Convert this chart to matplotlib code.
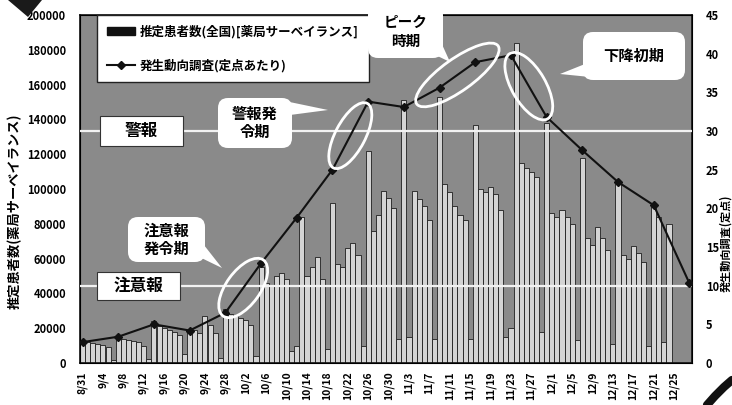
import math

import numpy as np
import pandas as pd
import matplotlib
matplotlib.use('Agg')
import matplotlib.pyplot as plt
from matplotlib.patches import Ellipse, FancyBboxPatch, Polygon, Patch, Rectangle
from matplotlib.lines import Line2D

plt.rcParams['font.family'] = ['Noto Sans CJK JP', 'DejaVu Sans']
plt.rcParams['font.weight'] = 'bold'

start_date = '2009-08-31'

# estimated patients per day (pharmacy surveillance), one row per week Mon..Sun
patients = [
    13000, 12000, 11500, 11000, 10500, 9000, 2000,
    15000, 14000, 13000, 12500, 12000, 10000, 2500,
    24000, 21000, 20000, 19000, 18000, 16000, 5000,
    18000, 19000, 17000, 27000, 22000, 17000, 3000,
    31000, 28000, 27000, 26000, 25000, 22000, 4000,
    55000, 46000, 45000, 50000, 52000, 48000, 7000,
    10000, 84000, 50000, 55000, 61000, 48000, 8000,
    92000, 57000, 55000, 66000, 69000, 62000, 10000,
    122000, 76000, 85000, 99000, 95000, 89000, 14000,
    151000, 15000, 99000, 94000, 90000, 82000, 14000,
    153000, 103000, 98000, 90000, 85000, 82000, 14000,
    137000, 100000, 98000, 101000, 97000, 88000, 15000,
    20000, 184000, 115000, 112000, 110000, 107000, 18000,
    138000, 86000, 84000, 88000, 84000, 80000, 13000,
    118000, 72000, 68000, 78000, 72000, 65000, 11000,
    103000, 62000, 60000, 67000, 63000, 58000, 10000,
    91000, 84000, 12000, 80000, 0, 0, 0,
    0,
]

# weekly sentinel reports (per sentinel site), plotted on each Monday
sentinel = [2.7, 3.4, 5.0, 4.2, 6.5, 12.9, 18.8, 25.0, 33.8, 33.1,
            35.6, 38.9, 39.8, 31.8, 27.5, 23.4, 20.4, 10.3]

alert_level = 30
advisory_level = 10

bar_label = '推定患者数(全国)[薬局サーベイランス]'
line_label = '発生動向調査(定点あたり)'

dates = pd.date_range(start_date, periods=len(patients), freq='D')
day_labels = ['{}/{}'.format(d.month, d.day) for d in dates]
x = np.arange(len(patients))
week_dates = pd.date_range(start_date, periods=len(sentinel), freq='7D')
week_x = dates.get_indexer(week_dates)

W, H = 732, 405
fig = plt.figure(figsize=(W / 100, H / 100), dpi=100)
ax = fig.add_axes([80 / W, 42 / H, 612 / W, 348 / H])
ax.set_facecolor('#8a8a8a')

ax.bar(x, patients, width=1.0, color='#d4d4d4', edgecolor='#1e1e1e',
       linewidth=0.6, zorder=2)
ax.set_xlim(-0.5, len(patients) - 0.5)
ax.set_ylim(0, 200000)
ax.set_yticks(range(0, 200001, 20000))
ax.set_yticklabels([str(v) for v in range(0, 200001, 20000)])
ax.set_xticks(x[::4])
ax.set_xticklabels(day_labels[::4], rotation=90)
ax.tick_params(axis='y', labelsize=8, length=0, pad=10)
ax.tick_params(axis='x', labelsize=7.5, length=0, pad=6)
for s in ax.spines.values():
    s.set_linewidth(1.2)
    s.set_color('#111111')

ax2 = ax.twinx()
ax2.set_ylim(0, 45)
ax2.set_yticks(range(0, 46, 5))
ax2.tick_params(axis='y', labelsize=8, length=0, pad=10)

# level lines with their labels on the left
ax2.axhline(alert_level, color='#f2f2f2', lw=1.6, zorder=3)
ax2.axhline(advisory_level, color='#f2f2f2', lw=1.6, zorder=3)
ytr = ax2.get_yaxis_transform()
for lvl, txt, x0, x1, half in [(alert_level, '警報', 0.033, 0.168, 1.9),
                               (advisory_level, '注意報', 0.028, 0.163, 1.8)]:
    ax2.add_patch(Rectangle((x0, lvl - half), x1 - x0, 2 * half,
                            transform=ytr, facecolor='white',
                            edgecolor='#333333', lw=0.8, zorder=4))
    ax2.text((x0 + x1) / 2, lvl, txt, transform=ytr, ha='center',
             va='center', fontsize=12, zorder=5)

ax2.plot(week_x, sentinel, color='#111111', lw=1.5, marker='D',
         markersize=4, zorder=6)

handles = [Patch(facecolor='#111111', edgecolor='#111111'),
           Line2D([], [], color='#111111', lw=1.5, marker='D', markersize=4)]
leg = ax2.legend(handles, [bar_label, line_label], loc='upper left',
                 bbox_to_anchor=(0.028, 1.0), borderaxespad=0, fontsize=9,
                 frameon=True, fancybox=False, framealpha=1,
                 edgecolor='#222222', labelspacing=1.6, borderpad=0.8,
                 handlelength=2.2, handletextpad=0.4)
leg.set_zorder(7)

fig.text(15 / W, 1 - 211 / H, '推定患者数(薬局サーベイランス)', rotation=90,
         ha='center', va='center', fontsize=9.5)
fig.text(726 / W, 1 - 243 / H, '発生動向調査(定点)', rotation=90,
         ha='center', va='center', fontsize=8)

# overlay in pixel units for callouts
over = fig.add_axes([0, 0, 1, 1])
over.set_xlim(0, W)
over.set_ylim(H, 0)
over.axis('off')
over.set_zorder(10)


def to_px(xd, yd):
    dx, dy = ax2.transData.transform((xd, yd))
    return dx, H - dy


def ring(i, j, major=None, minor=32, extra=10):
    p1 = to_px(week_x[i], sentinel[i])
    p2 = to_px(week_x[j], sentinel[j])
    cx, cy = (p1[0] + p2[0]) / 2, (p1[1] + p2[1]) / 2
    length = math.hypot(p2[0] - p1[0], p2[1] - p1[1])
    ang = math.degrees(math.atan2(p2[1] - p1[1], p2[0] - p1[0]))
    if major is None:
        major = length + extra
    over.add_patch(Ellipse((cx, cy), major, minor, angle=ang, fill=False,
                           edgecolor='white', lw=2))


def callout(text, x0, y0, x1, y1, tail, fs=11):
    over.add_patch(Polygon(tail, closed=True, facecolor='white',
                           edgecolor='none'))
    over.add_patch(FancyBboxPatch((x0, y0), x1 - x0, y1 - y0,
                                  boxstyle='round,pad=0,rounding_size=10',
                                  facecolor='white', edgecolor='none'))
    over.text((x0 + x1) / 2, (y0 + y1) / 2, text, ha='center', va='center',
              fontsize=fs, linespacing=1.2)


ring(4, 5, extra=8, minor=34)
ring(7, 8, extra=-4, minor=30)
ring(10, 11, major=100, minor=32)
ring(12, 13, extra=4, minor=34)

callout('注意報\n発令期', 128, 217, 205, 262,
        [(185, 250), (200, 240), (222, 268)], fs=11)
callout('警報発\n令期', 218, 98, 292, 148,
        [(280, 100), (290, 115), (328, 110)], fs=11)
callout('ピーク\n時期', 368, 5, 443, 58,
        [(425, 50), (440, 40), (450, 62)], fs=10.5)
callout('下降初期', 583, 32, 685, 80,
        [(590, 62), (600, 78), (560, 74)], fs=11)

# scan-edge marks at the page corners
over.add_patch(Polygon([(8, 0), (42, 0), (28, 17)], closed=True,
                       facecolor='#1a1a1a', edgecolor='none'))
over.plot([707, 715, 724, 732], [405, 396, 387, 380], color='#111111',
          lw=6, solid_capstyle='round')

fig.savefig('out.png', dpi=100)
